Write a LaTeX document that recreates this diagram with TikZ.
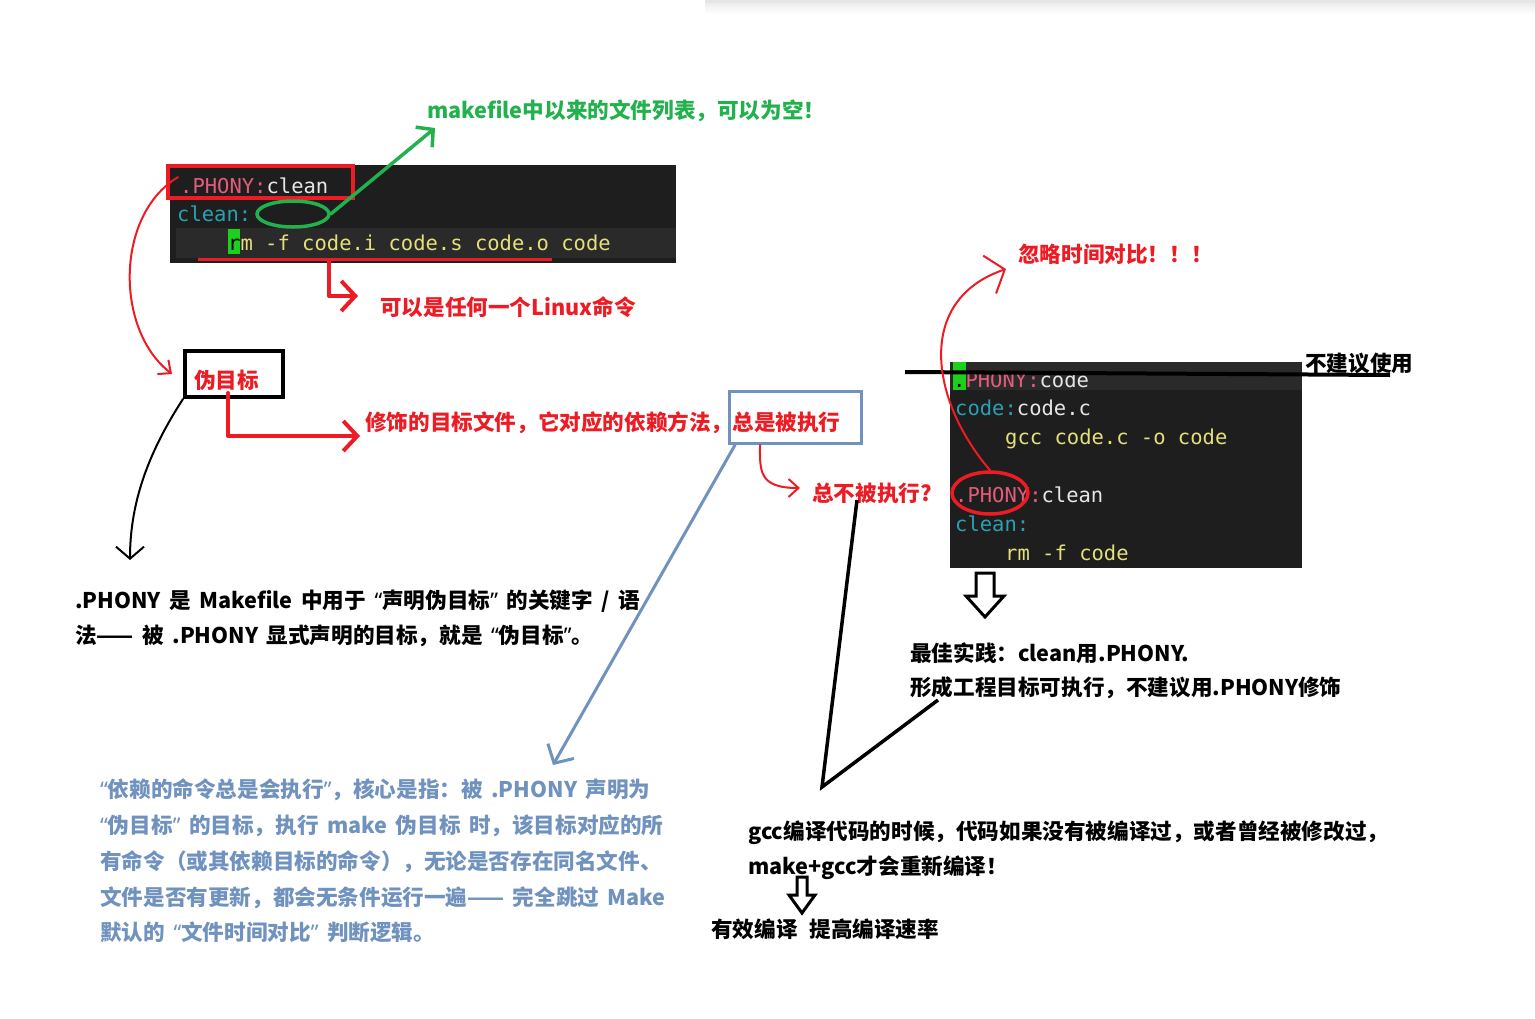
\documentclass[tikz,border=0pt]{standalone}
\usepackage{fontspec}
\newfontfamily\cjk{Noto Sans CJK SC}
\newfontfamily\latf{Noto Sans}
\newfontfamily\codef{DejaVu Sans Mono}
\usetikzlibrary{arrows.meta,shapes.geometric}
\definecolor{redc}{HTML}{ED1C24}
\definecolor{greenc}{HTML}{22B14C}
\definecolor{bluec}{HTML}{7092BE}
\definecolor{codebg}{HTML}{1E1E1E}
\definecolor{codeband}{HTML}{2A2A2A}
\definecolor{pinkc}{HTML}{E35D7A}
\definecolor{tealc}{HTML}{2AA1B3}
\definecolor{yellc}{HTML}{E5E07A}
\definecolor{cwhite}{HTML}{E6E6E6}
\definecolor{hlgreen}{HTML}{1ED01E}
\newcommand\mytxt{\cjk\bfseries\fontsize{21.6pt}{25pt}\selectfont\spaceskip=8.5pt plus 2pt minus 1pt\relax}
\newcommand\mycode{\codef\fontsize{20.5pt}{24pt}\selectfont}
\newcommand\qo{{\latf\bfseries “}}
\newcommand\qc{{\latf\bfseries ”}}
\begin{document}
\begin{tikzpicture}[x=1pt,y=-1pt,
  txt/.style={inner sep=0pt, anchor=base west, font=\mytxt},
  code/.style={inner sep=0pt, anchor=base west, font=\mycode},
  redarrow/.style={draw=redc, line width=4pt, line join=round, line cap=round,
     -{Straight Barb[length=14pt,width=30pt,line width=4pt]}},
  thinred/.style={draw=redc, line width=2pt, line join=round, line cap=round,
     -{Straight Barb[length=10pt,width=18pt,line width=2pt]}},
  blockarrow/.style={draw=black, line width=3pt, fill=white, line join=miter}
]
\fill[white] (0,0) rectangle (1535,1018);
\useasboundingbox (0,0) rectangle (1535,1018);
% top shadow
\fill[black!10] (705,0) rectangle (1535,3);
\shade[top color=black!7, bottom color=white] (705,3) rectangle (1535,14);

% ---------- code box 1 ----------
\fill[codebg] (170,165) rectangle (676,263);
\fill[codeband] (176,228) rectangle (676,258);
\fill[hlgreen] (228,229) rectangle (240,254);
\node[code] (c1a) at (180,193) {\textcolor{pinkc}{.PHONY:}\textcolor{cwhite}{clean}};
\node[code, text=tealc] (c1b) at (177,221) {clean:};
\node[code, text=yellc] (c1c) at (228,250) {\textcolor{black}{r}m -f code.i code.s code.o code};
\draw[redc, line width=4pt] (168,166) rectangle (353,198);
\node[draw=greenc, line width=3.5pt, ellipse, minimum width=72pt, minimum height=26pt, inner sep=0pt] (gell) at (293,214) {};
\node[txt, text=greenc] (gtext) at (427,118) {makefile中以来的文件列表，可以为空！};
\coordinate (gtip) at (435,128);
\draw[greenc, line width=3.5pt, line cap=round, -{Straight Barb[length=12pt,width=26pt,line width=3.5pt]}] (gell.east) -- (gtip);
\coordinate (ulA) at (198,259);
\coordinate (ulB) at (552,259);
\draw[redc, line width=3pt] (ulA) -- (ulB);
\node[txt, text=redc] (lin) at (380,315) {可以是任何一个Linux命令};
\coordinate (e1a) at (329,262);
\coordinate (e1b) at (329,296);
\coordinate (e1c) at (358,296);
\draw[redarrow] (e1a) -- (e1b) -- (e1c);

% ---------- pseudo target box ----------
\node[draw=black, line width=4pt, minimum width=98pt, minimum height=46pt, inner sep=0pt] (wbox) at (234,374) {};
\node[txt, text=redc] (wtext) at (194,388) {伪目标};
\coordinate (wl) at (172,374);
\draw[thinred] ([xshift=-2pt]c1a.north west) .. controls (115,215) and (115,330) .. (wl);
\node[txt, text=redc] (xiu) at (365,430) {修饰的目标文件，它对应的依赖方法，总是被执行};
\coordinate (e2a) at (228,393);
\coordinate (e2b) at (228,436);
\coordinate (e2c) at (360,436);
\draw[redarrow] (e2a) -- (e2b) -- (e2c);
\draw[bluec, line width=3pt] (729,391) rectangle (861,443);

% black curve to definition
\node[txt] (def1) at (75,608) {.PHONY 是 Makefile 中用于 \qo 声明伪目标\qc\ 的关键字 / 语};
\node[txt] (def2) at (75,643) {法—— 被 .PHONY 显式声明的目标，就是 \qo 伪目标\qc 。};
\coordinate (bk1) at (130,560);
\draw[black, line width=2pt, line cap=round, -{Straight Barb[length=12pt,width=28pt,line width=2pt]}] (wbox.south west) .. controls (150,450) and (130,500) .. (bk1);

% blue arrow and text
\coordinate (bl1) at (735,445);
\coordinate (bl2) at (553,765);
\draw[bluec, line width=3pt, line cap=round, -{Straight Barb[length=14pt,width=30pt,line width=3pt]}] (bl1) -- (bl2);
\begin{scope}[every node/.style={txt, text=bluec}]
\node (p1) at (100,797) {\qo 依赖的命令总是会执行\qc ，核心是指：被 .PHONY 声明为};
\node (p2) at (100,833) {\qo 伪目标\qc\ 的目标，执行 make 伪目标 时，该目标对应的所};
\node (p3) at (100,869) {有命令（或其依赖目标的命令），无论是否存在同名文件、};
\node (p4) at (100,905) {文件是否有更新，都会无条件运行一遍—— 完全跳过 Make};
\node (p5) at (100,940) {默认的 \qo 文件时间对比\qc\ 判断逻辑。};
\end{scope}

% never executed
\node[txt, text=redc] (zbb) at (812,501) {总不被执行?};
\coordinate (r3a) at (760,445);
\coordinate (r3b) at (800,488);
\draw[thinred] (r3a) .. controls (760,470) and (758,488) .. (r3b);

% ---------- code box 2 ----------
\fill[codebg] (950,362) rectangle (1302,568);
\fill[codeband] (950,362) rectangle (1302,390);
\fill[hlgreen] (953,362) rectangle (966,390);
\begin{scope}
\clip (950,371) rectangle (1302,392);
\node[code] (d1) at (953,387) {\textcolor{black}{.}\textcolor{pinkc}{PHONY:}\textcolor{cwhite}{code}};
\end{scope}
\node[code] (d2) at (955,415) {\textcolor{tealc}{code:}\textcolor{cwhite}{code.c}};
\node[code, text=yellc] (d3) at (1005,444) {gcc code.c -o code};
\node[code] (d5) at (955,502) {\textcolor{pinkc}{.PHONY:}\textcolor{cwhite}{clean}};
\node[code, text=tealc] (d6) at (955,531) {clean:};
\node[code, text=yellc] (d7) at (1005,560) {rm -f code};
\node[draw=redc, line width=3.5pt, ellipse, minimum width=76pt, minimum height=42pt, inner sep=0pt] (rell) at (990,493) {};
\coordinate (sA) at (905,372);
\coordinate (sB) at (1390,375);
\draw[black, line width=4pt] (sA) -- (sB);
\node[txt] (bjy) at (1305,371) {不建议使用};
\node[txt, text=redc] (hl) at (1018,262) {忽略时间对比！！！};
\coordinate (rtip) at (1006,269);
\draw[redc, line width=2pt, line cap=round, line join=round, -{Straight Barb[length=16pt,width=40pt,line width=2pt]}] (rell.north) .. controls (930,400) and (915,300) .. (rtip);

% block arrow 1
\draw[blockarrow] (976,573) -- (994,573) -- (994,596) -- (1004,596) -- (985,617) -- (966,596) -- (976,596) -- cycle;
\node[txt] (bp1) at (910,661) {最佳实践：clean用.PHONY.};
\node[txt] (bp2) at (910,695) {形成工程目标可执行，不建议用.PHONY修饰};

% V lines
\coordinate (v1) at (857,500);
\coordinate (v2) at (822,787);
\coordinate (v3) at (938,700);
\draw[black, line width=3.5pt, line join=miter] (v1) -- (v2) -- (v3);

\node[txt] (g1) at (748,839) {gcc编译代码的时候，代码如果没有被编译过，或者曾经被修改过，};
\node[txt] (g2) at (748,874) {make+gcc才会重新编译！};
\draw[blockarrow] (797,877) -- (807,877) -- (807,895) -- (815,895) -- (802,913) -- (789,895) -- (797,895) -- cycle;
\node[txt] (g3) at (711,937) {有效编译\hspace{12pt}提高编译速率};
\end{tikzpicture}
\end{document}
